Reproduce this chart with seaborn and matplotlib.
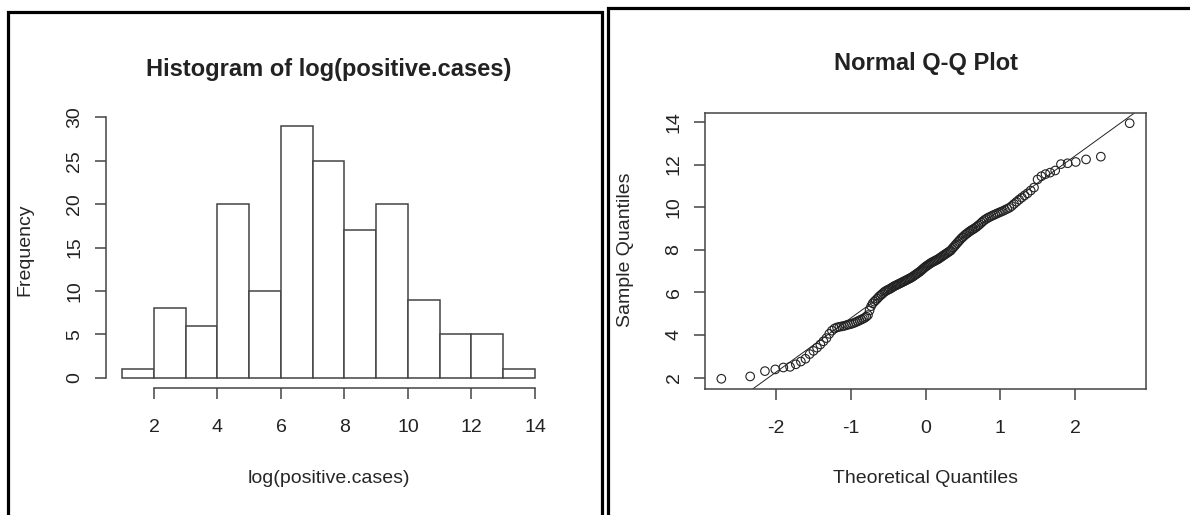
import statistics
import numpy as np
import seaborn as sns
import matplotlib.pyplot as plt
from matplotlib.patches import Rectangle

# log(positive.cases), values (sorted), grouped by histogram bin
log_cases = [
    1.94,
    2.05, 2.30, 2.38, 2.47, 2.50, 2.62, 2.75, 2.88,
    3.10, 3.25, 3.40, 3.55, 3.70, 3.85,
    4.05, 4.20, 4.30, 4.35, 4.38, 4.40, 4.42, 4.45, 4.48, 4.50,
    4.53, 4.56, 4.60, 4.64, 4.68, 4.72, 4.76, 4.80, 4.86, 4.93,
    5.15, 5.35, 5.48, 5.56, 5.63, 5.70, 5.78, 5.84, 5.90, 5.96,
    6.02, 6.06, 6.10, 6.13, 6.16, 6.20, 6.24, 6.28, 6.31, 6.34,
    6.37, 6.40, 6.43, 6.46, 6.49, 6.52, 6.55, 6.58, 6.61, 6.64,
    6.67, 6.70, 6.74, 6.78, 6.82, 6.86, 6.90, 6.94, 6.98,
    7.03, 7.08, 7.13, 7.18, 7.22, 7.26, 7.30, 7.34, 7.38, 7.41,
    7.44, 7.47, 7.50, 7.53, 7.56, 7.60, 7.64, 7.68, 7.72, 7.76,
    7.80, 7.84, 7.88, 7.92, 7.96,
    8.03, 8.10, 8.17, 8.24, 8.31, 8.38, 8.45, 8.52, 8.58, 8.64,
    8.70, 8.75, 8.80, 8.85, 8.90, 8.94, 8.98,
    9.03, 9.08, 9.14, 9.20, 9.27, 9.34, 9.40, 9.45, 9.50, 9.54,
    9.58, 9.62, 9.66, 9.70, 9.74, 9.78, 9.82, 9.87, 9.92, 9.97,
    10.05, 10.15, 10.25, 10.35, 10.45, 10.55, 10.65, 10.78, 10.92,
    11.30, 11.45, 11.55, 11.62, 11.72,
    12.02, 12.06, 12.12, 12.24, 12.37,
    13.94,
]
breaks = list(range(1, 15))
hist_xticks = [2, 4, 6, 8, 10, 12, 14]
hist_yticks = [0, 5, 10, 15, 20, 25, 30]
qq_xticks = [-2, -1, 0, 1, 2]
qq_yticks = [2, 4, 6, 8, 10, 12, 14]

ink = '#222222'
axis_col = '#444444'

sns.set_style('ticks')
plt.rcParams['font.family'] = ['Liberation Sans', 'DejaVu Sans']
plt.rcParams['text.color'] = ink
plt.rcParams['axes.unicode_minus'] = False

W, H = 1190, 515
fig = plt.figure(figsize=(W / 100, H / 100), dpi=100)

# axes boxes in pixels (left, top, right, bottom)
def box(l, t, r, b):
    return [l / W, (H - b) / H, (r - l) / W, (b - t) / H]

ax1 = fig.add_axes(box(105.7, 115.9, 551.5, 388))
ax2 = fig.add_axes(box(705, 113, 1146, 389))

# --- histogram ---
sns.histplot(x=log_cases, bins=breaks, ax=ax1, color='white', edgecolor=axis_col,
             linewidth=1.1, alpha=1)
counts = np.histogram(log_cases, bins=breaks)[0]
ax1.set_xlim(breaks[0] - 0.04 * (breaks[-1] - breaks[0]), breaks[-1] + 0.04 * (breaks[-1] - breaks[0]))
ax1.set_ylim(-0.04 * counts.max(), 1.04 * counts.max())
ax1.set_xticks(hist_xticks)
ax1.set_yticks(hist_yticks)
for s in ['top', 'right']:
    ax1.spines[s].set_visible(False)
ax1.spines['left'].set_bounds(hist_yticks[0], hist_yticks[-1])
ax1.spines['bottom'].set_bounds(hist_xticks[0], hist_xticks[-1])
ax1.set_title('Histogram of log(positive.cases)', fontsize=17, fontweight='bold',
              y=1.172, pad=0, va='center')
ax1.set_xlabel('log(positive.cases)', fontsize=14)
ax1.set_ylabel('Frequency', fontsize=14)
ax1.xaxis.set_label_coords(0.5, -0.331)
ax1.yaxis.set_label_coords(-0.181, 0.507)

# --- normal Q-Q plot ---
n = len(log_cases)
nd = statistics.NormalDist()
sample_q = np.sort(log_cases)
theo_q = np.array([nd.inv_cdf((i + 0.5) / n) for i in range(n)])
sns.scatterplot(x=theo_q, y=sample_q, ax=ax2, marker='o', facecolors='none',
                edgecolor=ink, s=38, linewidth=0.8)
q1y, q3y = np.quantile(sample_q, [0.25, 0.75])
q1x, q3x = nd.inv_cdf(0.25), nd.inv_cdf(0.75)
ax2.axline((q1x, q1y), slope=(q3y - q1y) / (q3x - q1x), color=ink, linewidth=0.7)
xr = theo_q.max() - theo_q.min()
yr = sample_q.max() - sample_q.min()
ax2.set_xlim(theo_q.min() - 0.04 * xr, theo_q.max() + 0.04 * xr)
ax2.set_ylim(sample_q.min() - 0.04 * yr, sample_q.max() + 0.04 * yr)
ax2.set_xticks(qq_xticks)
ax2.set_yticks(qq_yticks)
ax2.set_title('Normal Q-Q Plot', fontsize=17, fontweight='bold', y=1.178, pad=0, va='center')
ax2.set_xlabel('Theoretical Quantiles', fontsize=14)
ax2.set_ylabel('Sample Quantiles', fontsize=14)
ax2.xaxis.set_label_coords(0.499, -0.326)
ax2.yaxis.set_label_coords(-0.181, 0.504)

for ax in (ax1, ax2):
    for s in ax.spines.values():
        s.set_color(axis_col)
        s.set_linewidth(1.1)
    ax.tick_params(bottom=True, left=True, top=False, right=False, direction='out',
                   length=7.7, width=1.1, color=axis_col, labelsize=14, labelcolor=ink)
    ax.tick_params(axis='x', pad=14.5)
    ax.tick_params(axis='y', pad=8.5, labelrotation=90)
    for lab in ax.get_yticklabels():
        lab.set_va('center')
    ax.xaxis.label.set_va('center')
    ax.yaxis.label.set_va('center')
    ax.grid(False)

# screenshot panel frames
fig.add_artist(Rectangle((8 / W, -0.1), (601.7 - 8) / W, 1.1 - 12 / H, transform=fig.transFigure,
                         fill=False, edgecolor='black', linewidth=2.3))
fig.add_artist(Rectangle((608.3 / W, -0.1), 0.6, 1.1 - 8 / H, transform=fig.transFigure,
                         fill=False, edgecolor='black', linewidth=2.3))

fig.savefig('out.png', dpi=100)
